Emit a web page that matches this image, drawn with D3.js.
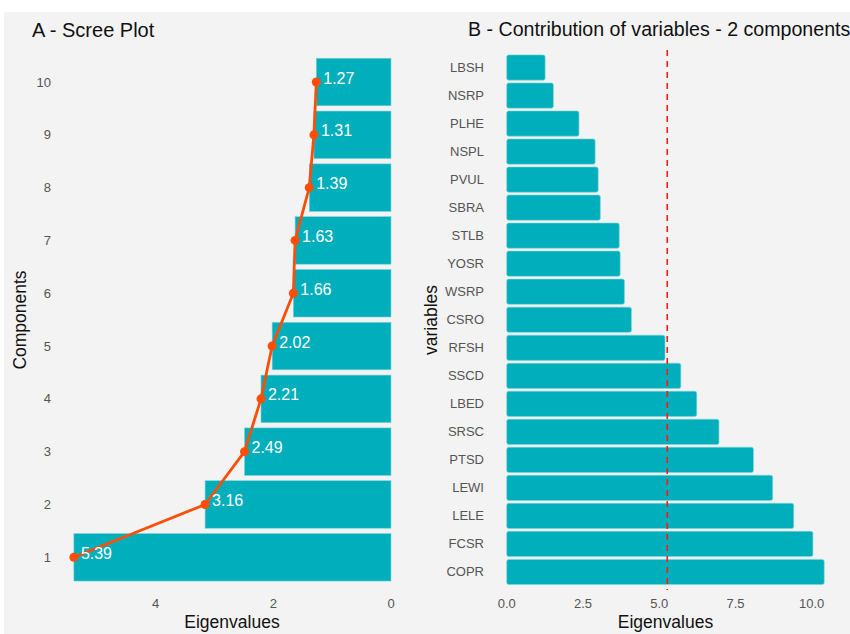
<!DOCTYPE html>
<html>
<head>
<meta charset="utf-8">
<script src="https://cdn.jsdelivr.net/npm/d3@7"></script>
<style>
  body { margin: 0; background: #fff; }
  text { font-family: "Liberation Sans", Arial, sans-serif; }
</style>
</head>
<body>
<script>
// scree plot data
var components = ['1', '2', '3', '4', '5', '6', '7', '8', '9', '10'];
var eigenvalues = [5.39, 3.16, 2.49, 2.21, 2.02, 1.66, 1.63, 1.39, 1.31, 1.27];
var screeTicks = [0, 2, 4];

// contribution data (top to bottom)
var variables = ['LBSH', 'NSRP', 'PLHE', 'NSPL', 'PVUL', 'SBRA', 'STLB', 'YOSR', 'WSRP', 'CSRO',
    'RFSH', 'SSCD', 'LBED', 'SRSC', 'PTSD', 'LEWI', 'LELE', 'FCSR', 'COPR'];
var contributions = [1.26, 1.53, 2.37, 2.90, 3.00, 3.07, 3.69, 3.72, 3.86, 4.09,
    5.19, 5.71, 6.23, 6.96, 8.09, 8.72, 9.41, 10.04, 10.41];
var contribTicks = [0, 2.5, 5, 7.5, 10];
var expected = 100 / 19;

var barColor = '#00AFBB';
var lineColor = '#FC4E07';

var svg = d3.select('body').append('svg').attr('width', 850).attr('height', 634);

svg.append('rect').attr('x', 4).attr('y', 12).attr('width', 846).attr('height', 622).attr('fill', '#f3f3f3');

// ---- panel A ----
var xA = d3.scaleLinear().domain([0, 5.66]).range([391, 58]);
var yA = d3.scaleBand().domain(components).range([583.7, 55.6]).paddingInner(0.1).paddingOuter(0.05);

var gA = svg.append('g');
gA.selectAll('rect.bar')
    .data(eigenvalues)
    .enter()
    .append('rect')
    .attr('class', 'bar')
    .attr('x', function(d) { return xA(d); })
    .attr('y', function(d, i) { return yA(components[i]); })
    .attr('width', function(d) { return xA(0) - xA(d); })
    .attr('height', yA.bandwidth())
    .attr('fill', barColor)
    .attr('stroke', '#7fd3d9')
    .attr('stroke-width', 0.6);

var line = d3.line()
    .x(function(d) { return xA(d); })
    .y(function(d, i) { return yA(components[i]) + yA.bandwidth() / 2; });

gA.append('path')
    .attr('d', line(eigenvalues))
    .attr('fill', 'none')
    .attr('stroke', lineColor)
    .attr('stroke-width', 2.8)
    .attr('stroke-linejoin', 'round');

gA.selectAll('circle')
    .data(eigenvalues)
    .enter()
    .append('circle')
    .attr('cx', function(d) { return xA(d); })
    .attr('cy', function(d, i) { return yA(components[i]) + yA.bandwidth() / 2; })
    .attr('r', 4.5)
    .attr('fill', lineColor);

gA.selectAll('text.val')
    .data(eigenvalues)
    .enter()
    .append('text')
    .attr('class', 'val')
    .attr('x', function(d) { return xA(d) + 7; })
    .attr('y', function(d, i) { return yA(components[i]) + yA.bandwidth() / 2 + 1.5; })
    .attr('fill', '#fff')
    .attr('font-size', 16)
    .text(function(d) { return d.toFixed(2); });

// axes A
gA.selectAll('text.ytick')
    .data(components)
    .enter()
    .append('text')
    .attr('class', 'ytick')
    .attr('x', 51)
    .attr('y', function(d) { return yA(d) + yA.bandwidth() / 2 + 4.5; })
    .attr('text-anchor', 'end')
    .attr('font-size', 13)
    .attr('fill', '#555')
    .text(function(d) { return d; });

gA.selectAll('text.xtick')
    .data(screeTicks)
    .enter()
    .append('text')
    .attr('class', 'xtick')
    .attr('x', function(d) { return xA(d); })
    .attr('y', 608)
    .attr('text-anchor', 'middle')
    .attr('font-size', 13)
    .attr('fill', '#555')
    .text(function(d) { return d; });

gA.append('text')
    .attr('x', 232).attr('y', 628)
    .attr('text-anchor', 'middle').attr('font-size', 17.5).attr('fill', '#111')
    .text('Eigenvalues');

gA.append('text')
    .attr('transform', 'translate(26,320) rotate(-90)')
    .attr('text-anchor', 'middle').attr('font-size', 17.5).attr('fill', '#111')
    .text('Components');

gA.append('text')
    .attr('x', 32).attr('y', 37)
    .attr('font-size', 20).attr('fill', '#111')
    .text('A - Scree Plot');

// ---- panel B ----
var xB = d3.scaleLinear().domain([0, 10]).range([506.7, 811.7]);
var yB = d3.scaleBand().domain(variables).range([53.5, 586]).paddingInner(0.1).paddingOuter(0.05);

var gB = svg.append('g');
gB.selectAll('rect.bar')
    .data(contributions)
    .enter()
    .append('rect')
    .attr('class', 'bar')
    .attr('x', xB(0))
    .attr('y', function(d, i) { return yB(variables[i]); })
    .attr('width', function(d) { return xB(d) - xB(0); })
    .attr('height', yB.bandwidth())
    .attr('rx', 2)
    .attr('fill', barColor)
    .attr('stroke', '#7fd3d9')
    .attr('stroke-width', 0.6);

gB.append('line')
    .attr('x1', xB(expected)).attr('x2', xB(expected))
    .attr('y1', 50).attr('y2', 590)
    .attr('stroke', '#ff1a1a')
    .attr('stroke-width', 1.6)
    .attr('stroke-dasharray', '6,5');

gB.selectAll('text.ytick')
    .data(variables)
    .enter()
    .append('text')
    .attr('class', 'ytick')
    .attr('x', 484)
    .attr('y', function(d) { return yB(d) + yB.bandwidth() / 2 + 4.5; })
    .attr('text-anchor', 'end')
    .attr('font-size', 13)
    .attr('fill', '#555')
    .text(function(d) { return d; });

gB.selectAll('text.xtick')
    .data(contribTicks)
    .enter()
    .append('text')
    .attr('class', 'xtick')
    .attr('x', function(d) { return xB(d); })
    .attr('y', 608)
    .attr('text-anchor', 'middle')
    .attr('font-size', 13)
    .attr('fill', '#555')
    .text(function(d) { return d.toFixed(1); });

gB.append('text')
    .attr('x', 665.5).attr('y', 628)
    .attr('text-anchor', 'middle').attr('font-size', 17.5).attr('fill', '#111')
    .text('Eigenvalues');

gB.append('text')
    .attr('transform', 'translate(437,320) rotate(-90)')
    .attr('text-anchor', 'middle').attr('font-size', 17.5).attr('fill', '#111')
    .text('variables');

gB.append('text')
    .attr('x', 468).attr('y', 36)
    .attr('font-size', 19.6).attr('fill', '#111')
    .text('B - Contribution of variables - 2 components');
</script>
</body>
</html>
